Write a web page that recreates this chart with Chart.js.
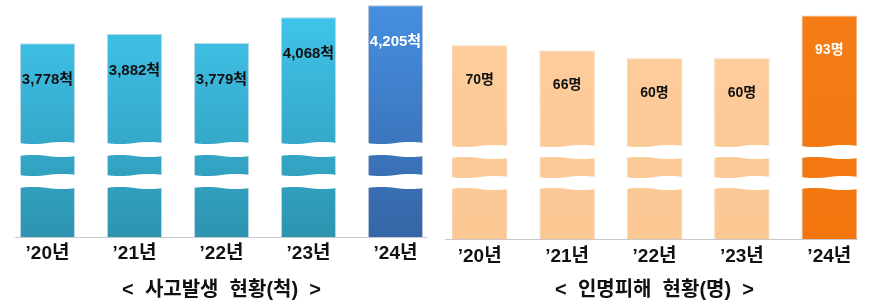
<!DOCTYPE html>
<html><head><meta charset="utf-8">
<script src="https://cdn.jsdelivr.net/npm/chart.js@4"></script>
<style>
body{margin:0;width:873px;height:302px;background:#fff;overflow:hidden;position:relative}
#c1{position:absolute;left:0;top:0}
#c2{position:absolute;left:430px;top:0}
</style></head><body>
<canvas id="c1" width="440" height="302"></canvas>
<canvas id="c2" width="443" height="302"></canvas>
<script>
const years = ["’20년", "’21년", "’22년", "’23년", "’24년"];
const accidents = [3778, 3882, 3779, 4068, 4205];
const casualties = [70, 66, 60, 60, 93];
const accidentUnit = "척";
const casualtyUnit = "명";
const accidentTitle = "<  사고발생  현황(척)  >";
const casualtyTitle = "<  인명피해  현황(명)  >";

const FONT = "'Liberation Sans', 'Noto Sans CJK KR', sans-serif";

function makeChart(id, cfg) {
  const decor = {
    id: 'decor',
    afterDatasetsDraw(chart) {
      const ctx = chart.ctx;
      const meta = chart.getDatasetMeta(0);
      const area = chart.chartArea;
      ctx.save();
      // wavy breaks
      meta.data.forEach((bar) => {
        const w = bar.width;
        const l = bar.x - w / 2 - 1, r = bar.x + w / 2 + 1;
        cfg.breaks.forEach(([y1, y2]) => {
          ctx.beginPath();
          const N = 30;
          for (let i = 0; i <= N; i++) {
            const x = l + (r - l) * i / N;
            const y = y1 + 1.1 * Math.sin(2 * Math.PI * i / N);
            i === 0 ? ctx.moveTo(x, y) : ctx.lineTo(x, y);
          }
          for (let i = N; i >= 0; i--) {
            const x = l + (r - l) * i / N;
            const y = y2 - 1.1 * Math.sin(2 * Math.PI * i / N);
            ctx.lineTo(x, y);
          }
          ctx.closePath();
          ctx.fillStyle = '#ffffff';
          ctx.fill();
        });
      });
      // baseline
      ctx.strokeStyle = '#c9c9c9';
      ctx.lineWidth = 1;
      ctx.beginPath();
      ctx.moveTo(area.left + cfg.lineInset[0], area.bottom + 0.5);
      ctx.lineTo(area.right - cfg.lineInset[1], area.bottom + 0.5);
      ctx.stroke();
      // value labels
      ctx.font = 'bold ' + cfg.labelSize + 'px ' + FONT;
      ctx.textAlign = 'center';
      ctx.textBaseline = 'middle';
      meta.data.forEach((bar, i) => {
        ctx.fillStyle = i === 4 ? '#ffffff' : '#111111';
        const v = cfg.values[i].toLocaleString('en-US') + cfg.unit;
        ctx.fillText(v, bar.x, bar.y + cfg.labelOffset);
      });
      ctx.restore();
    }
  };
  return new Chart(document.getElementById(id), {
    type: 'bar',
    data: {
      labels: years,
      datasets: [{
        data: cfg.values,
        base: cfg.min,
        backgroundColor: (c) => {
          const ch = c.chart, a = ch.chartArea;
          const cols = c.dataIndex === 4 ? cfg.hiColors : cfg.colors;
          if (!a) return cols[0];
          const g = ch.ctx.createLinearGradient(0, a.top, 0, a.bottom);
          g.addColorStop(0, cols[0]);
          g.addColorStop(1, cols[1]);
          return g;
        },
        borderColor: (c) => c.dataIndex === 4 ? cfg.hiBorder : cfg.border,
        borderWidth: 1,
        borderSkipped: 'bottom',
        barPercentage: cfg.barPct,
        categoryPercentage: 1
      }]
    },
    options: {
      responsive: false,
      animation: false,
      devicePixelRatio: 1,
      layout: { padding: { left: cfg.padL, right: cfg.padR, top: 0, bottom: 0 } },
      plugins: { legend: { display: false }, tooltip: { enabled: false }, title: { display: false } },
      scales: {
        y: { display: false, min: cfg.min, max: cfg.max },
        x: {
          grid: { display: false, drawTicks: false },
          border: { display: false },
          ticks: { color: '#111', font: { family: FONT, size: 19, weight: 'bold' }, padding: cfg.tickPad },
          title: { display: true, text: cfg.title, color: '#111', font: { family: FONT, size: 20, weight: 'bold' }, padding: { top: 0, bottom: 0 } },
          afterFit: (s) => { s.height = 302 - cfg.baseline; }
        }
      }
    },
    plugins: [decor]
  });
}

makeChart('c1', {
  values: accidents, unit: accidentUnit, title: accidentTitle,
  min: 1600, max: 4263, baseline: 237, padL: 4, padR: 1, barPct: 0.632, tickPad: 5,
  colors: ['#41c7ef', '#2d94b0'], hiColors: ['#4690e2', '#3565a6'],
  border: 'rgba(40,140,170,0.35)', hiBorder: 'rgba(40,80,150,0.35)',
  breaks: [[143, 156], [175, 188]], lineInset: [11, 12], labelSize: 15, labelOffset: 37
});
makeChart('c2', {
  values: casualties, unit: casualtyUnit, title: casualtyTitle,
  min: -80, max: 105, baseline: 239, padL: 6, padR: 0, barPct: 0.635, tickPad: 6,
  colors: ['#fdcd9c', '#fbc894'], hiColors: ['#f57d17', '#f3760f'],
  border: 'rgba(235,160,90,0.45)', hiBorder: 'rgba(220,100,10,0.5)',
  breaks: [[146, 158], [177, 189]], lineInset: [9, 15], labelSize: 14, labelOffset: 35
});
</script>
</body></html>
